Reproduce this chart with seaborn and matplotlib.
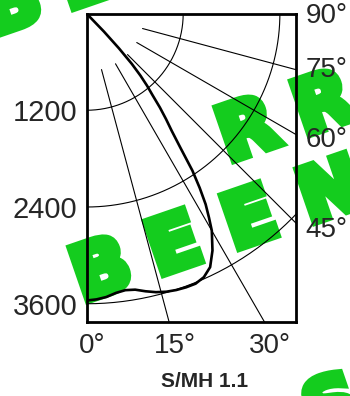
import numpy as np
import matplotlib
matplotlib.use("Agg")
import matplotlib.pyplot as plt
import matplotlib.transforms as mtransforms
import matplotlib.patheffects as pe
import seaborn as sns

# candela distribution (half-plane, 0 deg = straight down)
angle_deg = [0, 2, 4, 6, 8, 10, 12, 14, 16, 18, 20, 22, 24, 26, 28, 30,
             31, 32, 33, 34, 35, 36, 37, 38, 39, 40, 41, 42, 43, 44, 45]
candela = [3560, 3548, 3525, 3485, 3465, 3478, 3522, 3562, 3590, 3606, 3614,
           3614, 3580, 3500, 3330, 3110, 2950, 2790, 2580, 2350, 2030, 1800,
           1640, 1480, 1300, 1170, 1020, 840, 590, 310, 0]

ring_values = [1200, 2400, 3600]
ring_labels = ["1200", "2400", "3600"]
ray_angles = [15, 30, 45, 60, 75]
bottom_angles = [0, 15, 30]
side_angles = [90, 75, 60, 45]
title = "S/MH 1.1"

watermark_words = ["BEEN", "RR", "BEEN", "S"]

W, H = 350, 396
XMAX, YMAX = 2600, 3820
GREEN = "#14cc1e"

sns.set_style("white")
plt.rcParams["font.family"] = ["Liberation Sans", "DejaVu Sans"]

fig = plt.figure(figsize=(W / 100, H / 100), dpi=100)
ax = fig.add_axes([86.5 / W, 1 - 321.5 / H, 209.5 / W, 308 / H])
ax.set_facecolor("none")
ax.set_xlim(0, XMAX)
ax.set_ylim(YMAX, 0)

# grid arcs and rays
t = np.radians(np.linspace(0, 90, 200))
for r in ring_values:
    ax.plot(r * np.sin(t), r * np.cos(t), color="black", lw=0.8)
for a in ray_angles:
    ar = np.radians(a)
    ax.plot([720 * np.sin(ar), 8000 * np.sin(ar)],
            [720 * np.cos(ar), 8000 * np.cos(ar)], color="black", lw=0.8)

# the candela curve
th = np.radians(angle_deg)
cd = np.array(candela)
sns.lineplot(x=cd * np.sin(th), y=cd * np.cos(th), sort=False, estimator=None,
             color="black", lw=1.9, ax=ax)

ax.set_xticks([])
ax.set_yticks(ring_values)
ax.set_yticklabels(ring_labels)
ax.tick_params(axis="y", length=0, pad=6.5, labelsize=21)
for s in ax.spines.values():
    s.set_visible(True)
    s.set_linewidth(2.0)
    s.set_color("black")

# angle labels along the bottom and the right side
bot = mtransforms.offset_copy(ax.transData, fig, x=4, y=-8, units="points")
for a in bottom_angles:
    ax.text(YMAX * np.tan(np.radians(a)), YMAX, f"{a}\u00b0", transform=bot,
            ha="center", va="top", fontsize=20, clip_on=False)
nudge = {90: -1.5, 75: 0, 60: -4, 45: -5}
for a in side_angles:
    y = 0 if a == 90 else XMAX / np.tan(np.radians(a))
    tr = mtransforms.offset_copy(ax.transData, fig, x=6.8, y=nudge[a], units="points")
    ax.text(XMAX, y, f"{a}\u00b0", transform=tr, ha="left", va="center",
            fontsize=20, clip_on=False)

fig.text(205 / W, 9 / H, title, ha="center", va="baseline",
         fontsize=15, fontweight="bold")

# green stamp behind the chart
rot = 19
starts = [(-8, 36), (228, 162), (82, 302), (314, 438)]
step = 80
thick = [pe.withStroke(linewidth=6, foreground=GREEN, joinstyle="miter")]
for word, (x0, y0) in zip(watermark_words, starts):
    for i, ch in enumerate(word):
        x = x0 + i * step * np.cos(np.radians(rot))
        y = y0 - i * step * np.sin(np.radians(rot))
        fig.text(x / W, 1 - y / H, ch, rotation=rot, rotation_mode="anchor",
                 ha="left", va="baseline", fontsize=54, fontweight="bold",
                 family="DejaVu Sans", color=GREEN, zorder=-1,
                 path_effects=thick)

fig.savefig("out.png", dpi=100)
